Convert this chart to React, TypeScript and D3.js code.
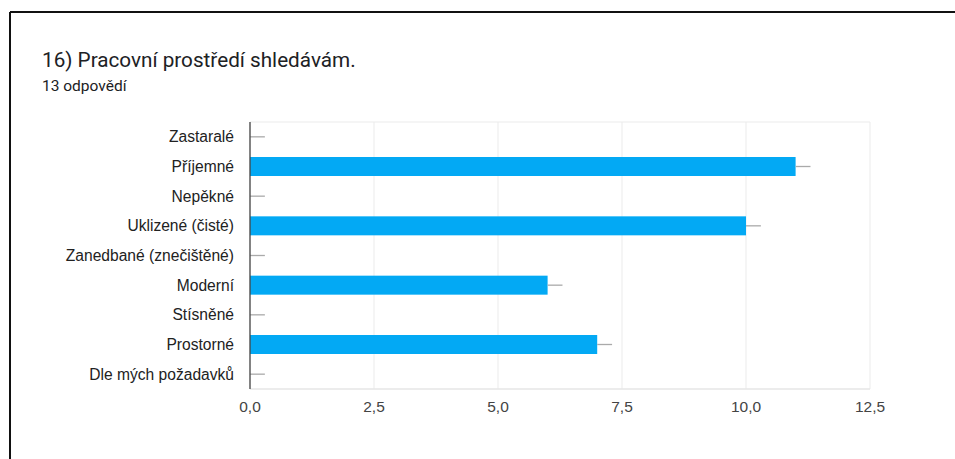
import React from "react";
import * as d3 from "d3";

const categories = [
  "Zastaralé",
  "Příjemné",
  "Nepěkné",
  "Uklizené (čisté)",
  "Zanedbané (znečištěné)",
  "Moderní",
  "Stísněné",
  "Prostorné",
  "Dle mých požadavků",
];
const counts = [0, 11, 0, 10, 0, 6, 0, 7, 0];
const xTicks = [0, 2.5, 5, 7.5, 10, 12.5];
const title = "16) Pracovní prostředí shledávám.";
const subtitle = "13 odpovědí";

const W = 955;
const H = 459;
const plot = { left: 250, right: 870, top: 122, bottom: 389 };
const whisker = 0.3;

export default function App() {
  const x = d3.scaleLinear().domain([0, 12.5]).range([plot.left, plot.right]);
  const y = d3
    .scaleBand<string>()
    .domain(categories)
    .range([plot.top, plot.bottom])
    .paddingInner(0.36)
    .paddingOuter(0.18);
  const fmt = (v: number) => d3.format(".1f")(v).replace(".", ",");

  return (
    <div style={{ position: "absolute", left: 0, top: 0, width: W, height: H, background: "#fff" }}>
      <svg width={W} height={H} style={{ display: "block" }}>
        <rect width={W} height={H} fill="#fff" />
        {/* frame */}
        <line x1={10} x2={10} y1={12} y2={H} stroke="#111" strokeWidth={2} />
        <line x1={10} x2={W} y1={12} y2={12} stroke="#111" strokeWidth={2} />

        <text x={42} y={67} fontFamily="Roboto, 'Open Sans', sans-serif" fontSize={20.7} fill="#202124">
          {title}
        </text>
        <text x={42} y={91} fontFamily="Roboto, sans-serif" fontSize={15.5} fill="#202124">
          {subtitle}
        </text>

        {/* grid */}
        {xTicks.map((t) => (
          <line key={t} x1={x(t)} x2={x(t)} y1={plot.top} y2={plot.bottom} stroke="#ebebeb" strokeWidth={1} />
        ))}
        <line x1={plot.left} x2={plot.right} y1={plot.top} y2={plot.top} stroke="#ebebeb" />
        <line x1={plot.left} x2={plot.right} y1={plot.bottom} y2={plot.bottom} stroke="#e6e6e6" strokeWidth={1.5} />

        {/* bars */}
        {categories.map((c, i) => {
          const yc = (y(c) ?? 0) + y.bandwidth() / 2;
          return (
            <g key={c}>
              {counts[i] > 0 && (
                <rect
                  x={x(0)}
                  y={y(c)}
                  width={x(counts[i]) - x(0)}
                  height={y.bandwidth()}
                  fill="#03a9f4"
                />
              )}
              <line
                x1={x(counts[i])}
                x2={x(counts[i] + whisker)}
                y1={yc}
                y2={yc}
                stroke="#aaa"
                strokeWidth={1.3}
              />
              <text
                x={plot.left - 16}
                y={yc}
                dy="0.36em"
                textAnchor="end"
                fontFamily="'Liberation Sans', Arial, sans-serif"
                fontSize={15.6}
                fill="#222"
              >
                {c}
              </text>
            </g>
          );
        })}

        {/* zero axis */}
        <line x1={plot.left} x2={plot.left} y1={plot.top} y2={plot.bottom} stroke="#444" strokeWidth={1.3} />

        {xTicks.map((t) => (
          <text
            key={t}
            x={x(t)}
            y={412}
            textAnchor="middle"
            fontFamily="'Liberation Sans', Arial, sans-serif"
            fontSize={15.5}
            fill="#444"
          >
            {fmt(t)}
          </text>
        ))}
      </svg>
    </div>
  );
}
